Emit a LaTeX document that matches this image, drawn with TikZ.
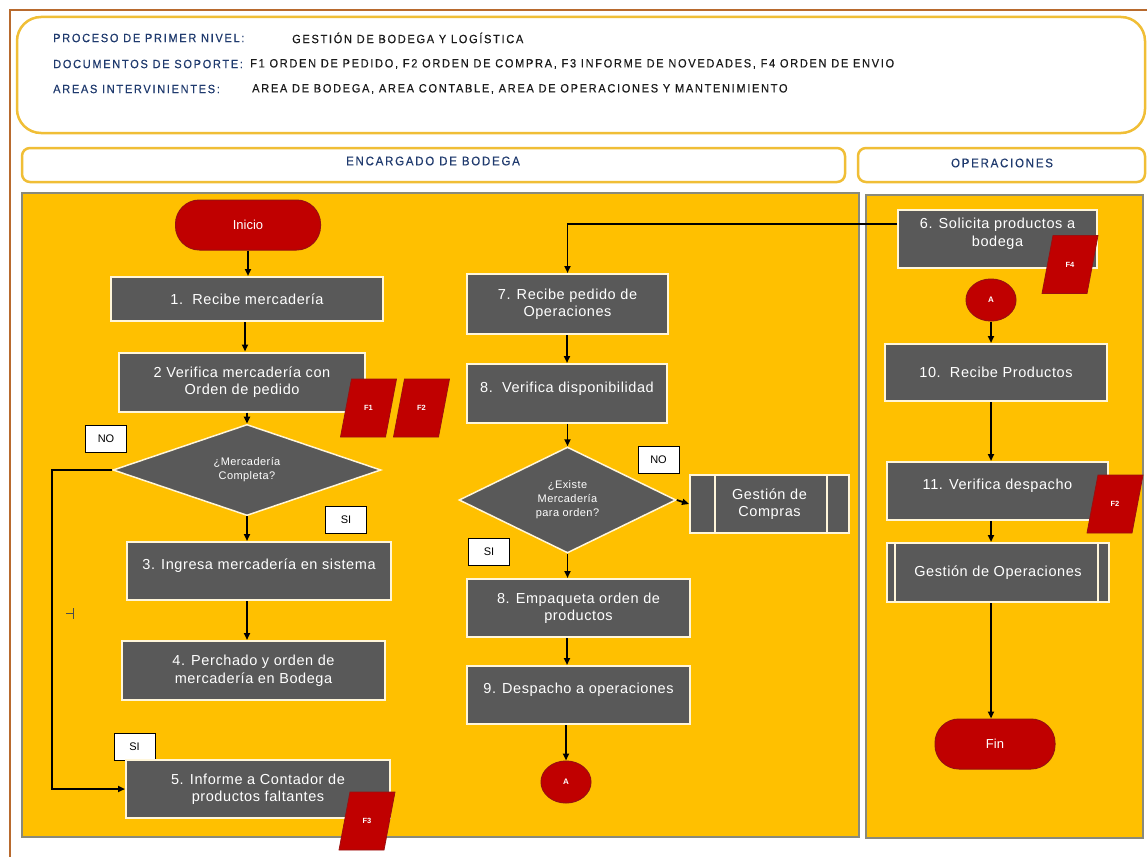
\documentclass[tikz,border=0pt]{standalone}
\usepackage{fontspec}
\setmainfont{Liberation Sans}
\newfontfamily\hdrfont[FakeStretch=0.92,LetterSpace=14,FakeBold=0.4]{Liberation Sans}
\newfontfamily\boxfont[LetterSpace=4]{Liberation Sans}
\usetikzlibrary{shapes.geometric,arrows.meta,calc}

\definecolor{framebrown}{HTML}{B86A2E}
\definecolor{goldedge}{HTML}{F0BE36}
\definecolor{lanefill}{HTML}{FFC000}
\definecolor{laneedge}{HTML}{8A8A7A}
\definecolor{boxgray}{HTML}{595959}
\definecolor{boxedge}{HTML}{FFF6DA}
\definecolor{termred}{HTML}{C00000}
\definecolor{termedge}{HTML}{9A1010}
\definecolor{hdrblue}{HTML}{1F3A6E}
\definecolor{hdrtext}{HTML}{1A1A1A}

\tikzset{
  proc/.style={draw=boxedge, line width=2pt, fill=boxgray, text=white,
    font=\boxfont\fontsize{14.5}{17.5}\selectfont, align=center, inner sep=2pt},
  term/.style={draw=termedge, line width=1pt, fill=termred, text=white,
    rounded corners=24pt, font=\fontsize{13}{15}\selectfont,
    minimum height=50pt},
  decis/.style={diamond, draw=boxedge, line width=1.5pt, fill=boxgray,
    text=white, align=center, inner sep=0pt,
    font=\boxfont\fontsize{11}{14}\selectfont},
  docbox/.style={text=white, font=\bfseries\fontsize{7.5}{9}\selectfont,
    inner sep=0pt, minimum width=45pt, minimum height=58pt},
  docshape/.style={draw=termedge, line width=0.8pt, fill=termred},
  conn/.style={ellipse, draw=termedge, line width=1pt, fill=termred,
    text=white, font=\bfseries\fontsize{8}{9}\selectfont,
    minimum width=50pt, minimum height=42pt, inner sep=0pt},
  tag/.style={draw=black, line width=0.8pt, fill=white, text=black,
    font=\fontsize{11}{12}\selectfont, minimum width=41pt, minimum height=27pt,
    inner sep=0pt},
  flow/.style={line width=1.8pt, draw=black,
    -{Triangle[length=7pt,width=6pt]}},
  lanehead/.style={draw=goldedge, line width=2.5pt, fill=white,
    rounded corners=8pt},
  lanebody/.style={draw=laneedge, line width=1.2pt, fill=lanefill},
  hdrlabel/.style={anchor=west, text=hdrblue, inner sep=0pt,
    font=\hdrfont\fontsize{12}{14}\selectfont},
  hdrvalue/.style={anchor=west, text=hdrtext, inner sep=0pt,
    font=\hdrfont\fontsize{12}{14}\selectfont},
  lift/.style={text depth=13pt},
}

% a document sheet: named text node plus a parallelogram leaning right
\newcommand\docsheet[3]{%
  \path[docshape] ([xshift=-5.5pt]#2) ++(-22.5pt,-29pt) -- ++(45pt,0pt)
     -- ++(11pt,58pt) -- ++(-45pt,0pt) -- cycle;
  \node[docbox] (#1) at (#2) {#3};}

\begin{document}
\begin{tikzpicture}[x=1pt,y=-1pt]
\useasboundingbox (0,0) rectangle (1147,856);
\fill[white] (0,0) rectangle (1147,856);

% outer frame
\draw[framebrown, line width=2.5pt] (10,860) -- (10,10) -- (1150,10);

% heading block
\draw[goldedge, line width=2.5pt, fill=white, rounded corners=24pt]
  (17,17) rectangle (1145,133);
\node[hdrlabel] (l1) at (53,38) {PROCESO DE PRIMER NIVEL:};
\node[hdrvalue] (v1) at (292,38) {GESTIÓN DE BODEGA Y LOGÍSTICA};
\node[hdrlabel] (l2) at (53,64) {DOCUMENTOS DE SOPORTE:};
\node[hdrvalue] (v2) at (250,64) {F1 ORDEN DE PEDIDO, F2 ORDEN DE COMPRA, F3 INFORME DE NOVEDADES, F4 ORDEN DE ENVIO};
\node[hdrlabel] (l3) at (53,89) {AREAS INTERVINIENTES:};
\node[hdrvalue] (v3) at (252,89) {AREA DE BODEGA, AREA CONTABLE, AREA DE OPERACIONES Y MANTENIMIENTO};

% lanes
\draw[lanehead] (22,148) rectangle (845,182);
\node[text=hdrblue, font=\hdrfont\fontsize{12.5}{14}\selectfont] (lh1) at (433,161) {ENCARGADO DE BODEGA};
\draw[lanehead] (858,148) rectangle (1145,182);
\node[text=hdrblue, font=\hdrfont\fontsize{12.5}{14}\selectfont] (lh2) at (1002,163) {OPERACIONES};
\draw[lanebody] (22,193) rectangle (859,837);
\draw[lanebody] (866,195) rectangle (1143,838);

% ---- left column: receiving goods
\node[term, minimum width=145pt] (ini) at (248,225) {Inicio};
\node[proc, minimum width=272pt, minimum height=44pt] (b1) at (247,299) {1.\ \ Recibe mercadería};
\node[proc, minimum width=246pt, minimum height=59pt] (b2) at (242,382) {2 Verifica mercadería con\\Orden de pedido};
\docsheet{f1}{368.5,408}{F1}
\docsheet{f2}{421.5,408}{F2}
\node[decis, minimum width=268pt, minimum height=78pt] (d1) at (247,470) {¿Mercadería\\Completa?};
\node[tag] (no1) at (106,439) {NO};
\node[tag] (si1) at (346,520) {SI};
\node[proc, lift, minimum width=264pt, minimum height=58pt] (b3) at (259,571) {3. Ingresa mercadería en sistema};
\node[proc, minimum width=263pt, minimum height=59pt] (b4) at (253.5,670.5) {4. Perchado y orden de\\mercadería en Bodega};
\node[tag] (si2) at (134.5,747) {SI};
\node[proc, minimum width=264pt, minimum height=58pt] (b5) at (258,789) {5. Informe a Contador de\\productos faltantes};
\docsheet{f3}{367,821}{F3}

% small tick beside the return line
\draw[black!70, line width=0.9pt] (66,613) -- (73,613) (73,608) -- (73,619);

\coordinate (x245) at (245,0);
\coordinate (x247) at (247,0);
\draw[flow] (ini.south) -- (ini.south |- b1.north);
\draw[flow] (b1.south -| x245) -- (x245 |- b2.north);
\draw[flow] (b2.south -| d1.north) -- (d1.north);
\draw[flow] (d1.south) -- (d1.south |- b3.north);
\draw[flow] (b3.south -| x247) -- (x247 |- b4.north);
\draw[flow] (d1.west) -- ++(-60,0) |- (b5.west);

% ---- middle column: order preparation
\node[proc, minimum width=201pt, minimum height=60pt] (b7) at (567.5,304) {7. Recibe pedido de\\Operaciones};
\node[proc, lift, minimum width=200pt, minimum height=59pt] (b8) at (567,393.5) {8.\ \ Verifica disponibilidad};
\node[decis, minimum width=217pt, minimum height=106pt] (d2) at (567.5,500) {¿Existe\\Mercadería\\para orden?};
\node[tag] (no2) at (658.5,459.5) {NO};
\node[proc, minimum width=159pt, minimum height=58pt] (gc) at (769.5,504) {Gestión de\\Compras};
\draw[boxedge, line width=2pt] ([xshift=26pt]gc.north west) -- ([xshift=26pt]gc.south west)
  ([xshift=-23pt]gc.north east) -- ([xshift=-23pt]gc.south east);
\node[tag] (si3) at (489,552) {SI};
\node[proc, minimum width=223pt, minimum height=58pt] (b8b) at (578.5,608) {8. Empaqueta orden de\\productos};
\node[proc, lift, minimum width=223pt, minimum height=58pt] (b9) at (578.5,695) {9. Despacho a operaciones};
\node[conn] (ca1) at (566,782) {A};

\coordinate (x567) at (567,0);
\draw[flow] (b7.south -| x567) -- (x567 |- b8.north);
\draw[flow] (b8.south -| d2.north) -- (d2.north);
\draw[flow] (d2.east) -- (gc.west);
\draw[flow] (d2.south) -- (d2.south |- b8b.north);
\draw[flow] (b8b.south -| x567) -- (x567 |- b9.north);
\draw[flow] (b9.south -| ca1.north) -- (ca1.north);

% ---- right column: operations
\node[proc, minimum width=199pt, minimum height=58pt, text depth=14pt] (b6) at (997.5,239) {6. Solicita productos a\\bodega};
\docsheet{f4}{1070,264.5}{F4}
\node[conn] (ca2) at (991,300) {A};
\node[proc, minimum width=222pt, minimum height=57pt] (b10) at (996,372.5) {10.\ \ Recibe Productos};
\node[proc, lift, minimum width=221pt, minimum height=58pt] (b11) at (997.5,491) {11. Verifica despacho};
\docsheet{f2b}{1115,504}{F2}
\node[proc, minimum width=222pt, minimum height=59pt] (go) at (998,572.5) {Gestión de Operaciones};
\draw[boxedge, line width=2pt] ([xshift=9pt]go.north west) -- ([xshift=9pt]go.south west)
  ([xshift=-12pt]go.north east) -- ([xshift=-12pt]go.south east);
\node[term, minimum width=120pt] (fin) at (995,744) {Fin};

\coordinate (x991) at (991,0);
\draw[flow] ([yshift=15pt]b6.west) -| (b7.north);
\draw[flow] (ca2.south) -- (ca2.south |- b10.north);
\draw[flow] (b10.south -| x991) -- (x991 |- b11.north);
\draw[flow] (b11.south -| x991) -- (x991 |- go.north);
\draw[flow] (go.south -| x991) -- (x991 |- fin.north);
\end{tikzpicture}
\end{document}
